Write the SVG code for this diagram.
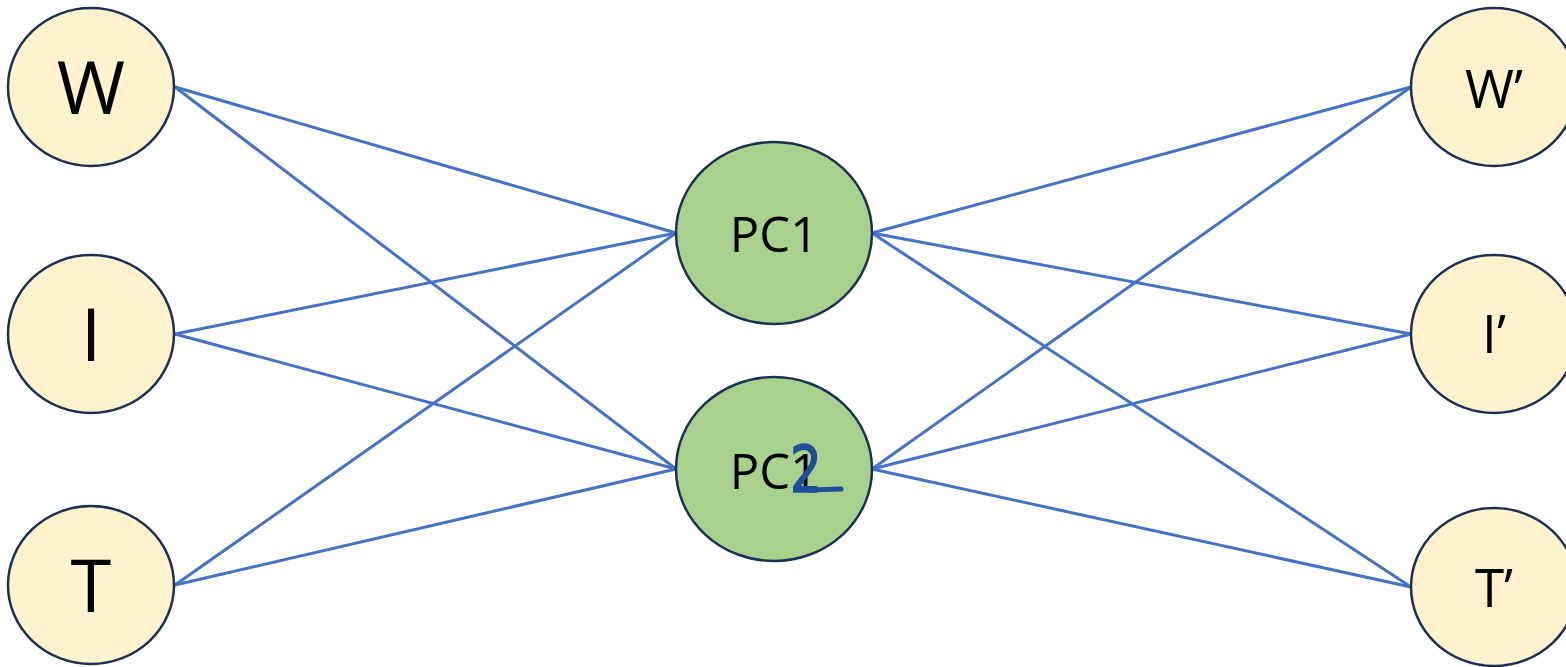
<svg xmlns="http://www.w3.org/2000/svg" width="1566" height="667" viewBox="0 0 1566 667">
  <style>
    .edge { stroke: #4472C4; stroke-width: 3; fill: none; }
    .in { fill: #FFF2CC; stroke: #1B2F57; stroke-width: 2.5; }
    .pc { fill: #A9D18E; stroke: #1B2F57; stroke-width: 2.5; }
    .big { font-family: "Open Sans", "Liberation Sans", sans-serif; font-size: 74px; fill: #000; text-anchor: middle; }
    .mid { font-family: "Open Sans", "Liberation Sans", sans-serif; font-size: 49px; fill: #000; text-anchor: middle; }
    .out { font-family: "Open Sans", "Liberation Sans", sans-serif; font-size: 53px; fill: #000; text-anchor: middle; }
    .ink { font-family: "DejaVu Sans", sans-serif; font-size: 64px; fill: #1F4E99; stroke: #1F4E99; stroke-width: 1.5; }
  </style>
  <rect width="1566" height="667" fill="#FFFFFF"/>

  <!-- connections: inputs to components, components to outputs -->
  <g id="connectors">
    <line class="edge" x1="175" y1="87" x2="676" y2="233"/>
    <line class="edge" x1="175" y1="87" x2="676" y2="469"/>
    <line class="edge" x1="175" y1="334" x2="676" y2="233"/>
    <line class="edge" x1="175" y1="334" x2="676" y2="469"/>
    <line class="edge" x1="175" y1="585" x2="676" y2="233"/>
    <line class="edge" x1="175" y1="585" x2="676" y2="469"/>
    <line class="edge" x1="872" y1="233" x2="1411" y2="87"/>
    <line class="edge" x1="872" y1="233" x2="1411" y2="334"/>
    <line class="edge" x1="872" y1="233" x2="1411" y2="587"/>
    <line class="edge" x1="872" y1="469" x2="1411" y2="87"/>
    <line class="edge" x1="872" y1="469" x2="1411" y2="334"/>
    <line class="edge" x1="872" y1="469" x2="1411" y2="587"/>
  </g>

  <!-- input nodes -->
  <g id="node-W">
    <ellipse class="in" cx="91" cy="87" rx="83" ry="79"/>
    <text class="big" x="91" y="114">W</text>
  </g>
  <g id="node-I">
    <ellipse class="in" cx="91" cy="334" rx="83" ry="79"/>
    <text class="big" x="91" y="361">I</text>
  </g>
  <g id="node-T">
    <ellipse class="in" cx="91" cy="585" rx="83" ry="79"/>
    <text class="big" x="91" y="612">T</text>
  </g>

  <!-- principal components -->
  <g id="node-PC1">
    <ellipse class="pc" cx="774" cy="233" rx="98" ry="91"/>
    <text class="mid" x="774" y="252">PC1</text>
  </g>
  <g id="node-PC2">
    <ellipse class="pc" cx="774" cy="469" rx="98" ry="92"/>
    <text class="mid" x="774" y="489">PC1</text>
    <!-- hand-written correction over the last digit -->
    <text class="ink" x="790" y="492" transform="translate(790 492) scale(0.78 1) translate(-790 -492)">2</text>
    <line x1="808" y1="490" x2="841" y2="489" stroke="#1F4E99" stroke-width="5" stroke-linecap="round"/>
  </g>

  <!-- reconstructed outputs -->
  <g id="node-W2">
    <ellipse class="in" cx="1494" cy="87" rx="83" ry="79"/>
    <text class="out" x="1494" y="108">W’</text>
  </g>
  <g id="node-I2">
    <ellipse class="in" cx="1494" cy="334" rx="83" ry="79"/>
    <text class="out" x="1494" y="353">I’</text>
  </g>
  <g id="node-T2">
    <ellipse class="in" cx="1494" cy="587" rx="83" ry="79"/>
    <text class="out" x="1494" y="607">T’</text>
  </g>
</svg>
